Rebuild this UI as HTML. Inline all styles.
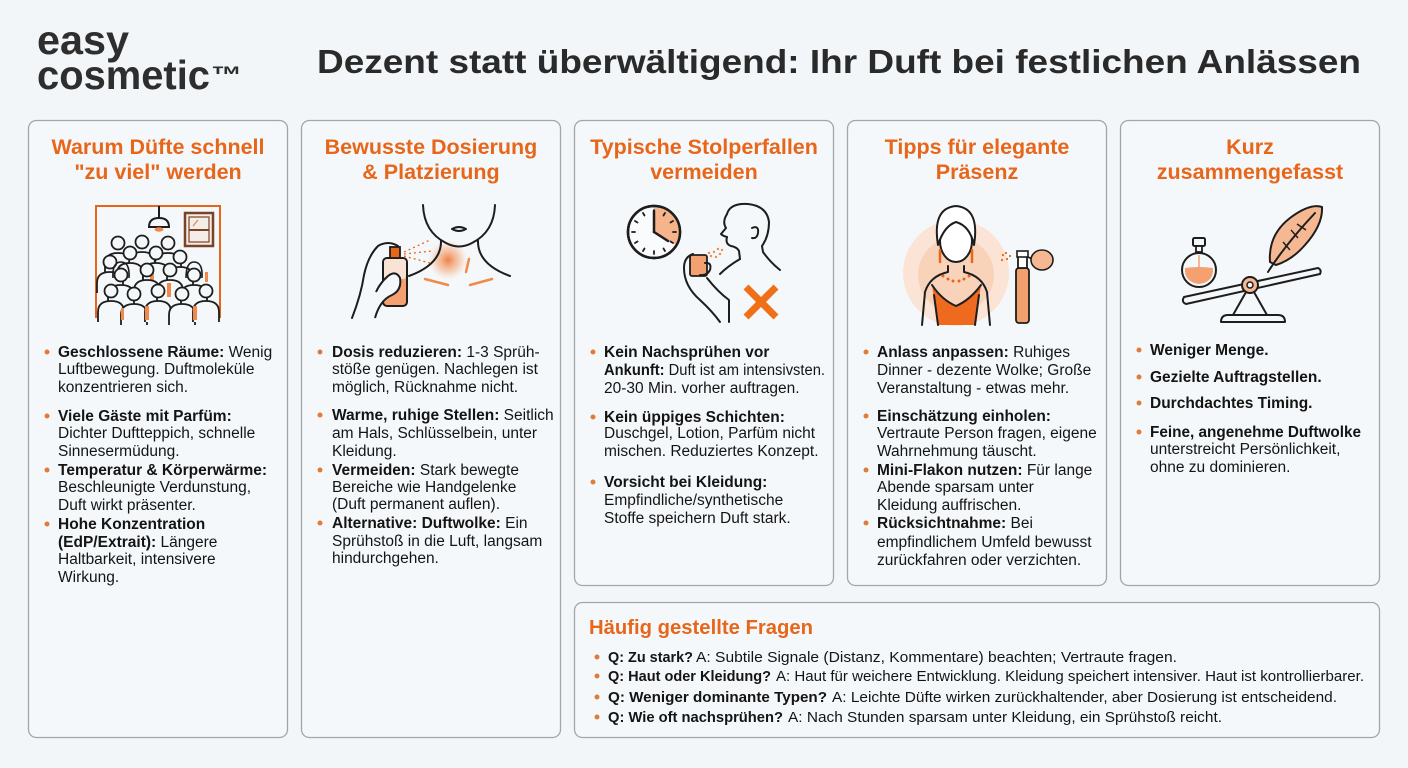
<!DOCTYPE html>
<html><head><meta charset="utf-8">
<style>
html,body{margin:0;padding:0;background:#F2F6F8;}
svg{display:block}
text{font-family:"Liberation Sans",sans-serif;}
.h{font-weight:bold;font-size:21.5px;fill:#E8661A;text-anchor:middle}
.t{font-size:15.5px;fill:#141414}
.f{font-size:15px;fill:#141414}
.b{font-weight:bold}
.d{fill:#E07B39}
.ln{fill:none;stroke:#1d1d1d;stroke-width:2;stroke-linecap:round;stroke-linejoin:round}
.card{fill:#F5F8FA;stroke:#A2A6AA;stroke-width:1.3}
</style></head><body>
<svg width="1408" height="768" viewBox="0 0 1408 768" xmlns="http://www.w3.org/2000/svg">
<defs>
<radialGradient id="glow" cx="0.5" cy="0.5" r="0.5">
<stop offset="0" stop-color="#F07A3A" stop-opacity="0.95"/>
<stop offset="0.6" stop-color="#F5A06E" stop-opacity="0.45"/>
<stop offset="1" stop-color="#F8C8A8" stop-opacity="0"/>
</radialGradient>
<g id="pp"><path d="M-13 31 V21 Q-13 10 0 10 Q13 10 13 21 V31" fill="#F5F8FA" stroke="#1d1d1d" stroke-width="1.8" stroke-linejoin="round"/><circle r="6.5" fill="#F5F8FA" stroke="#1d1d1d" stroke-width="1.8"/></g>
</defs>
<rect width="1408" height="768" fill="#F2F6F8"/>

<!-- Logo -->
<text x="37" y="54" font-size="41" font-weight="bold" fill="#2e2e2e" textLength="92" lengthAdjust="spacingAndGlyphs">easy</text>
<text x="37" y="89" font-size="41" font-weight="bold" fill="#2e2e2e" textLength="173" lengthAdjust="spacingAndGlyphs">cosmetic</text>
<text x="211" y="83" font-size="24" font-weight="bold" fill="#2e2e2e" textLength="31" lengthAdjust="spacingAndGlyphs">™</text>

<!-- Title -->
<text x="317" y="73" font-size="33" font-weight="bold" fill="#2a2a2a" textLength="1044" lengthAdjust="spacingAndGlyphs">Dezent statt überwältigend: Ihr Duft bei festlichen Anlässen</text>

<!-- Cards -->
<rect class="card" x="28.5" y="120.5" width="259" height="617" rx="8"/>
<rect class="card" x="301.5" y="120.5" width="259" height="617" rx="8"/>
<rect class="card" x="574.5" y="120.5" width="259" height="465" rx="8"/>
<rect class="card" x="847.5" y="120.5" width="259" height="465" rx="8"/>
<rect class="card" x="1120.5" y="120.5" width="259" height="465" rx="8"/>
<rect class="card" x="574.5" y="602.5" width="805" height="135" rx="8"/>

<!-- Headings -->
<text class="h" x="158" y="154">Warum Düfte schnell</text>
<text class="h" x="158" y="179">"zu viel" werden</text>
<text class="h" x="431" y="154">Bewusste Dosierung</text>
<text class="h" x="431" y="179">&amp; Platzierung</text>
<text class="h" x="704" y="154">Typische Stolperfallen</text>
<text class="h" x="704" y="179">vermeiden</text>
<text class="h" x="977" y="154">Tipps für elegante</text>
<text class="h" x="977" y="179">Präsenz</text>
<text class="h" x="1250" y="154">Kurz</text>
<text class="h" x="1250" y="179">zusammengefasst</text>

<!-- Illustration 1: crowded room -->
<path d="M96 318 V206 H220 V318" fill="none" stroke="#E8661A" stroke-width="2"/>
<line x1="159" y1="206" x2="159" y2="219" stroke="#1d1d1d" stroke-width="2"/>
<path d="M149 227 Q149 218 159 218 Q169 218 169 227 Z" fill="#F5F8FA" stroke="#1d1d1d" stroke-width="2"/>
<ellipse cx="159" cy="229.5" rx="4.5" ry="2.2" fill="#F08A4A"/>
<rect x="185" y="213" width="28" height="33" fill="#F4ECE6" stroke="#7B4326" stroke-width="2.5"/>
<rect x="189" y="217" width="20" height="25" fill="none" stroke="#7B4326" stroke-width="1.2"/>
<line x1="189" y1="230" x2="209" y2="230" stroke="#7B4326" stroke-width="2"/>
<line x1="193" y1="226" x2="198" y2="220" stroke="#D08050" stroke-width="1"/>
<use href="#pp" x="118" y="243"/>
<use href="#pp" x="142" y="242"/>
<use href="#pp" x="168" y="243"/>
<use href="#pp" x="130" y="253"/>
<use href="#pp" x="156" y="253"/>
<use href="#pp" x="180" y="257"/>
<rect x="150" y="268" width="4" height="12" fill="#F08A4A"/>
<use href="#pp" x="110" y="262"/>
<use href="#pp" x="147" y="270"/>
<use href="#pp" x="170" y="270"/>
<use href="#pp" x="121" y="275"/>
<use href="#pp" x="194" y="275"/>
<path d="M113 278 Q112 262 121 262 Q130 262 129 278" fill="none" stroke="#1d1d1d" stroke-width="1.6"/>
<path d="M186 278 Q186 262 194 262 Q203 262 202 278" fill="none" stroke="#1d1d1d" stroke-width="1.6"/>
<rect x="167" y="283" width="4" height="14" fill="#F08A4A"/>
<rect x="205" y="272" width="3" height="10" fill="#F08A4A"/>
<use href="#pp" x="111" y="291"/>
<use href="#pp" x="134" y="294"/>
<use href="#pp" x="158" y="291"/>
<use href="#pp" x="182" y="294"/>
<use href="#pp" x="206" y="291"/>
<rect x="145" y="306" width="4" height="14" fill="#F08A4A"/>
<rect x="193" y="306" width="4" height="14" fill="#F08A4A"/>
<rect x="121" y="308" width="3" height="12" fill="#F08A4A"/>

<!-- Illustration 2: neck & spray -->
<circle cx="448" cy="260" r="20" fill="url(#glow)"/>
<path class="ln" d="M423 205 Q424 232 446 243 Q459 250 472 243 Q494 232 495 205"/>
<path class="ln" d="M452 229 Q459 225 466 229 Q459 233 452 229"/>
<path class="ln" d="M441 240 Q442 264 409 276"/>
<path class="ln" d="M478 240 Q477 264 510 276"/>
<line x1="425" y1="279" x2="448" y2="285" stroke="#F08A4A" stroke-width="2.5" stroke-linecap="round"/>
<line x1="470" y1="285" x2="492" y2="279" stroke="#F08A4A" stroke-width="2.5" stroke-linecap="round"/>
<line x1="469" y1="259" x2="466" y2="272" stroke="#F08A4A" stroke-width="2.5" stroke-linecap="round"/>
<g stroke="#E8661A" stroke-width="1.3" stroke-dasharray="2 3" fill="none">
<line x1="404" y1="252" x2="430" y2="240"/>
<line x1="404" y1="254" x2="432" y2="251"/>
<line x1="404" y1="256" x2="430" y2="263"/>
</g>
<rect x="383" y="258" width="24" height="48" rx="4" fill="#F4A071" stroke="#1d1d1d" stroke-width="2"/>
<rect x="384" y="259" width="22" height="20" rx="3" fill="#F9E3D4"/>
<rect x="390" y="247" width="10" height="11" fill="#E8661A" stroke="#1d1d1d" stroke-width="1.8"/>
<path class="ln" d="M398 246 Q388 240 378 246 Q368 256 364 275 Q361 295 352 318"/>
<path d="M375 318 Q380 300 392 295 Q402 290 400 278 Q396 270 388 276 Q380 283 376 292" fill="#F5F8FA" stroke="#1d1d1d" stroke-width="2" stroke-linejoin="round"/>

<!-- Illustration 3: clock & man -->
<circle cx="654" cy="232" r="26" fill="#FAFBFC" stroke="#1d1d1d" stroke-width="2.5"/>
<path d="M654 232 L654 206 A26 26 0 0 1 676.5 245 Z" fill="#F6B48A"/>
<circle cx="654" cy="232" r="26" fill="none" stroke="#1d1d1d" stroke-width="2.5"/>
<g stroke="#1d1d1d" stroke-width="1.8" stroke-linecap="round">
<line x1="654" y1="210" x2="654" y2="213"/><line x1="665" y1="213" x2="663.5" y2="215.5"/><line x1="673" y1="221" x2="670.5" y2="222.5"/>
<line x1="676" y1="232" x2="673" y2="232"/><line x1="673" y1="243" x2="670.5" y2="241.5"/><line x1="665" y1="251" x2="663.5" y2="248.5"/>
<line x1="654" y1="254" x2="654" y2="251"/><line x1="643" y1="251" x2="644.5" y2="248.5"/><line x1="635" y1="243" x2="637.5" y2="241.5"/>
<line x1="632" y1="232" x2="635" y2="232"/><line x1="635" y1="221" x2="637.5" y2="222.5"/><line x1="643" y1="213" x2="644.5" y2="215.5"/>
</g>
<line x1="654" y1="232" x2="654" y2="211" stroke="#1d1d1d" stroke-width="2.5" stroke-linecap="round"/>
<line x1="654" y1="232" x2="668" y2="241" stroke="#1d1d1d" stroke-width="2.5" stroke-linecap="round"/>
<path class="ln" d="M727 214 Q730 203 748 204 Q767 206 769 222 Q769 236 762 246 L763 252 Q770 262 780 270"/>
<path class="ln" d="M727 214 Q722 222 726 228 L721 234 Q723 236 727 237 Q725 244 731 246 Q737 247 739 251 L740 259"/>
<path class="ln" d="M752 228 Q759 225 758 233 Q757 239 752 238"/>
<g fill="#F08A4A">
<circle cx="714" cy="252" r="1.2"/><circle cx="718" cy="249" r="1.2"/><circle cx="720" cy="254" r="1.2"/><circle cx="716" cy="257" r="1.2"/><circle cx="711" cy="256" r="1.2"/><circle cx="722" cy="250" r="1.2"/><circle cx="709" cy="253" r="1.2"/>
</g>
<rect x="690" y="255" width="17" height="21" rx="2" fill="#F4A071" stroke="#1d1d1d" stroke-width="1.8"/>
<path class="ln" d="M693 254 Q684 257 684 268 Q684 286 700 300 Q712 311 720 322"/>
<path class="ln" d="M705 263 Q712 262 710 270 Q707 276 700 275"/>
<path class="ln" d="M740 259 Q728 266 720 274"/>
<path class="ln" d="M707 278 Q718 292 729 300 L729 322"/>
<g stroke="#F07019" stroke-width="7">
<line x1="746" y1="287" x2="776" y2="317"/><line x1="776" y1="287" x2="746" y2="317"/>
</g>

<!-- Illustration 4: woman -->
<circle cx="956" cy="273" r="53" fill="#FBE4D5"/>
<circle cx="956" cy="275" r="38" fill="#F8D3BA"/>
<path d="M932 285 L938 325 L975 325 L981 285 Q970 300 956 306 Q942 300 932 285 Z" fill="#EE6A1E"/>
<path class="ln" d="M948 266 L948 272 Q930 276 925 292 L922 325"/>
<path class="ln" d="M964 266 L964 272 Q982 276 987 292 L990 325"/>
<path class="ln" d="M932 285 Q942 300 956 306 Q970 300 981 285"/>
<path class="ln" d="M938 325 L934 295"/><path class="ln" d="M975 325 L979 295"/>
<ellipse cx="956" cy="241" rx="16" ry="21" fill="#FFFFFF" stroke="#1d1d1d" stroke-width="2"/>
<path d="M938 245 Q932 208 956 206 Q980 208 974 245 Q970 226 956 222 Q944 226 938 245 Z" fill="#FFFFFF" stroke="#1d1d1d" stroke-width="2" stroke-linejoin="round"/>
<line x1="940" y1="250" x2="940" y2="262" stroke="#E8661A" stroke-width="2.5" stroke-linecap="round"/>
<line x1="972" y1="250" x2="972" y2="262" stroke="#E8661A" stroke-width="2.5" stroke-linecap="round"/>
<g fill="#E8661A">
<circle cx="943" cy="276" r="1.5"/><circle cx="948" cy="279" r="1.5"/><circle cx="953" cy="281" r="1.5"/><circle cx="959" cy="281" r="1.5"/><circle cx="964" cy="279" r="1.5"/><circle cx="969" cy="276" r="1.5"/>
<circle cx="1003" cy="255" r="1.1"/><circle cx="1007" cy="259" r="1.1"/><circle cx="1006" cy="253" r="1.1"/><circle cx="1010" cy="256" r="1.1"/><circle cx="1002" cy="260" r="1.1"/>
</g>
<rect x="1016" y="268" width="13" height="55" rx="3" fill="#F2A06E" stroke="#1d1d1d" stroke-width="1.8"/>
<rect x="1018" y="256" width="9" height="12" fill="#FFFFFF" stroke="#1d1d1d" stroke-width="1.8"/>
<rect x="1017" y="251" width="11" height="6" fill="#FFFFFF" stroke="#1d1d1d" stroke-width="1.6"/>
<line x1="1028" y1="257" x2="1032" y2="259" stroke="#1d1d1d" stroke-width="1.6"/>
<ellipse cx="1042" cy="260" rx="11" ry="10" fill="#F5B892" stroke="#1d1d1d" stroke-width="1.6"/>

<!-- Illustration 5: balance -->
<path d="M1221 322 Q1221 315 1228 315 H1278 Q1285 315 1285 322 Z" fill="#F5F8FA" stroke="#1d1d1d" stroke-width="2" stroke-linejoin="round"/>
<path class="ln" d="M1250 285 L1233 315 M1250 285 L1267 315"/>
<path d="M1184 297 L1318 268 Q1322 270 1320 274 L1186 304 Q1181 302 1184 297 Z" fill="#F5F8FA" stroke="#1d1d1d" stroke-width="2" stroke-linejoin="round"/>
<circle cx="1250" cy="285" r="8" fill="#F5B892" stroke="#1d1d1d" stroke-width="2"/>
<circle cx="1250" cy="285" r="3" fill="#F5F8FA" stroke="#1d1d1d" stroke-width="1.5"/>
<rect x="1193" y="238" width="12" height="8" rx="1.5" fill="#F5F8FA" stroke="#1d1d1d" stroke-width="2"/>
<rect x="1196" y="246" width="6" height="6" fill="#F5F8FA" stroke="#1d1d1d" stroke-width="1.8"/>
<circle cx="1199" cy="270" r="17" fill="#F5F8FA" stroke="#1d1d1d" stroke-width="2"/>
<path d="M1185 268 Q1199 266 1213 268 Q1214 282 1199 284 Q1184 282 1185 268 Z" fill="#F4A071"/>
<line x1="1199" y1="255" x2="1199" y2="268" stroke="#F4A071" stroke-width="1.5"/>
<path d="M1270 262 Q1268 235 1290 218 Q1310 203 1322 207 Q1323 225 1305 245 Q1292 260 1276 265 Z" fill="#F5B892" stroke="#1d1d1d" stroke-width="2" stroke-linejoin="round"/>
<path class="ln" d="M1268 272 Q1285 245 1315 213"/>
<path d="M1291 230 L1298 238 M1297 224 L1306 230 M1283 242 L1290 250" stroke="#1d1d1d" stroke-width="1.4" fill="none"/>

<!-- Card 1 text -->
<g class="d">
<circle cx="47" cy="352" r="2.5"/><circle cx="47" cy="416" r="2.5"/><circle cx="47" cy="470" r="2.5"/><circle cx="47" cy="524" r="2.5"/>
</g>
<text class="t" x="58" y="357"><tspan class="b">Geschlossene Räume:</tspan> Wenig</text>
<text class="t" x="58" y="374">Luftbewegung. Duftmoleküle</text>
<text class="t" x="58" y="392">konzentrieren sich.</text>
<text class="t b" x="58" y="421">Viele Gäste mit Parfüm:</text>
<text class="t" x="58" y="438">Dichter Duftteppich, schnelle</text>
<text class="t" x="58" y="456">Sinnesermüdung.</text>
<text class="t b" x="58" y="475">Temperatur &amp; Körperwärme:</text>
<text class="t" x="58" y="492">Beschleunigte Verdunstung,</text>
<text class="t" x="58" y="510">Duft wirkt präsenter.</text>
<text class="t b" x="58" y="529">Hohe Konzentration</text>
<text class="t" x="58" y="547"><tspan class="b">(EdP/Extrait):</tspan> Längere</text>
<text class="t" x="58" y="564">Haltbarkeit, intensivere</text>
<text class="t" x="58" y="582">Wirkung.</text>

<!-- Card 2 text -->
<g class="d">
<circle cx="320" cy="352" r="2.5"/><circle cx="320" cy="415" r="2.5"/><circle cx="320" cy="470" r="2.5"/><circle cx="320" cy="523" r="2.5"/>
</g>
<text class="t" x="332" y="357"><tspan class="b">Dosis reduzieren:</tspan> 1-3 Sprüh-</text>
<text class="t" x="332" y="374">stöße genügen. Nachlegen ist</text>
<text class="t" x="332" y="392">möglich, Rücknahme nicht.</text>
<text class="t" x="332" y="420"><tspan class="b">Warme, ruhige Stellen:</tspan> Seitlich</text>
<text class="t" x="332" y="438">am Hals, Schlüsselbein, unter</text>
<text class="t" x="332" y="456">Kleidung.</text>
<text class="t" x="332" y="475"><tspan class="b">Vermeiden:</tspan> Stark bewegte</text>
<text class="t" x="332" y="492">Bereiche wie Handgelenke</text>
<text class="t" x="332" y="509">(Duft permanent auflen).</text>
<text class="t" x="332" y="528"><tspan class="b">Alternative: Duftwolke:</tspan> Ein</text>
<text class="t" x="332" y="546">Sprühstoß in die Luft, langsam</text>
<text class="t" x="332" y="563">hindurchgehen.</text>

<!-- Card 3 text -->
<g class="d">
<circle cx="593" cy="352" r="2.5"/><circle cx="593" cy="417" r="2.5"/><circle cx="593" cy="482" r="2.5"/>
</g>
<text class="t b" x="604" y="357">Kein Nachsprühen vor</text>
<text class="t" x="604" y="375" textLength="221" lengthAdjust="spacingAndGlyphs"><tspan class="b">Ankunft:</tspan> Duft ist am intensivsten.</text>
<text class="t" x="604" y="393">20-30 Min. vorher auftragen.</text>
<text class="t b" x="604" y="422">Kein üppiges Schichten:</text>
<text class="t" x="604" y="438">Duschgel, Lotion, Parfüm nicht</text>
<text class="t" x="604" y="456">mischen. Reduziertes Konzept.</text>
<text class="t b" x="604" y="487">Vorsicht bei Kleidung:</text>
<text class="t" x="604" y="505">Empfindliche/synthetische</text>
<text class="t" x="604" y="523">Stoffe speichern Duft stark.</text>

<!-- Card 4 text -->
<g class="d">
<circle cx="866" cy="352" r="2.5"/><circle cx="866" cy="416" r="2.5"/><circle cx="866" cy="470" r="2.5"/><circle cx="866" cy="523" r="2.5"/>
</g>
<text class="t" x="877" y="357"><tspan class="b">Anlass anpassen:</tspan> Ruhiges</text>
<text class="t" x="877" y="375">Dinner - dezente Wolke; Große</text>
<text class="t" x="877" y="393">Veranstaltung - etwas mehr.</text>
<text class="t b" x="877" y="421">Einschätzung einholen:</text>
<text class="t" x="877" y="438">Vertraute Person fragen, eigene</text>
<text class="t" x="877" y="456">Wahrnehmung täuscht.</text>
<text class="t" x="877" y="475"><tspan class="b">Mini-Flakon nutzen:</tspan> Für lange</text>
<text class="t" x="877" y="492">Abende sparsam unter</text>
<text class="t" x="877" y="510">Kleidung auffrischen.</text>
<text class="t" x="877" y="528"><tspan class="b">Rücksichtnahme:</tspan> Bei</text>
<text class="t" x="877" y="547">empfindlichem Umfeld bewusst</text>
<text class="t" x="877" y="565">zurückfahren oder verzichten.</text>

<!-- Card 5 text -->
<g class="d">
<circle cx="1139" cy="350" r="2.5"/><circle cx="1139" cy="377" r="2.5"/><circle cx="1139" cy="403" r="2.5"/><circle cx="1139" cy="432" r="2.5"/>
</g>
<text class="t b" x="1150" y="355">Weniger Menge.</text>
<text class="t b" x="1150" y="382">Gezielte Auftragstellen.</text>
<text class="t b" x="1150" y="408">Durchdachtes Timing.</text>
<text class="t b" x="1150" y="437" textLength="211" lengthAdjust="spacingAndGlyphs">Feine, angenehme Duftwolke</text>
<text class="t" x="1150" y="454">unterstreicht Persönlichkeit,</text>
<text class="t" x="1150" y="472">ohne zu dominieren.</text>

<!-- FAQ -->
<text x="589" y="634" font-size="20" font-weight="bold" fill="#E8661A" textLength="224" lengthAdjust="spacingAndGlyphs">Häufig gestellte Fragen</text>
<g class="d">
<circle cx="597" cy="657" r="2.5"/><circle cx="597" cy="676" r="2.5"/><circle cx="597" cy="697" r="2.5"/><circle cx="597" cy="717" r="2.5"/>
</g>
<text class="f b" x="608" y="662" textLength="85" lengthAdjust="spacingAndGlyphs">Q: Zu stark?</text>
<text class="f" x="696" y="662" textLength="481" lengthAdjust="spacingAndGlyphs">A: Subtile Signale (Distanz, Kommentare) beachten; Vertraute fragen.</text>
<text class="f b" x="608" y="681" textLength="163" lengthAdjust="spacingAndGlyphs">Q: Haut oder Kleidung?</text>
<text class="f" x="776" y="681" textLength="588" lengthAdjust="spacingAndGlyphs">A: Haut für weichere Entwicklung. Kleidung speichert intensiver. Haut ist kontrollierbarer.</text>
<text class="f b" x="608" y="702" textLength="219" lengthAdjust="spacingAndGlyphs">Q: Weniger dominante Typen?</text>
<text class="f" x="832" y="702" textLength="505" lengthAdjust="spacingAndGlyphs">A: Leichte Düfte wirken zurückhaltender, aber Dosierung ist entscheidend.</text>
<text class="f b" x="608" y="722" textLength="175" lengthAdjust="spacingAndGlyphs">Q: Wie oft nachsprühen?</text>
<text class="f" x="788" y="722" textLength="434" lengthAdjust="spacingAndGlyphs">A: Nach Stunden sparsam unter Kleidung, ein Sprühstoß reicht.</text>
</svg>
</body></html>
